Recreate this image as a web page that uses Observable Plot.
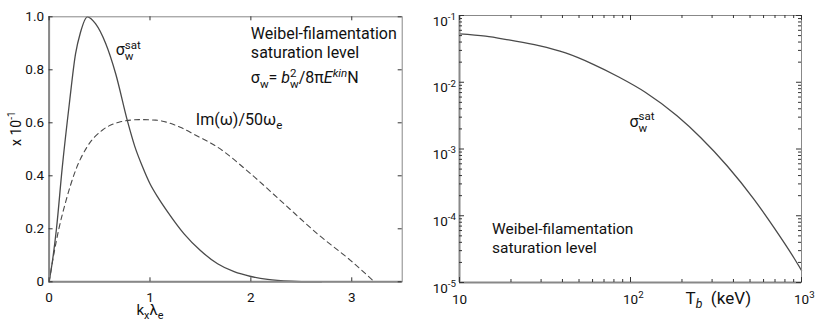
<!DOCTYPE html>
<html><head><meta charset="utf-8">
<script src="https://cdn.jsdelivr.net/npm/d3@7"></script>
<script src="https://cdn.jsdelivr.net/npm/@observablehq/plot@0.6"></script>
<style>
html,body{margin:0;padding:0;background:#fff;}
#wrap{position:relative;width:830px;height:329px;}
#left{position:absolute;left:0;top:0;}
#right{position:absolute;left:415px;top:0;}
</style></head>
<body><div id="wrap"><div id="left"></div><div id="right"></div></div>
<script>
// ---- Left panel data ----
const solidK = [0, 0.03, 0.073, 0.13, 0.2, 0.262, 0.31, 0.38, 0.46, 0.56, 0.66, 0.775, 0.85, 0.925, 1.0, 1.085, 1.173, 1.338, 1.5, 1.67, 1.834, 2.0, 2.166, 2.4, 2.6, 2.7];
const solidS = [0, 0.07, 0.2, 0.43, 0.67, 0.86, 0.94, 1.0, 0.974, 0.9, 0.785, 0.609, 0.51, 0.435, 0.37, 0.315, 0.265, 0.181, 0.118, 0.068, 0.038, 0.02, 0.009, 0.002, 0, 0];
const dashK = [0, 0.045, 0.097, 0.163, 0.262, 0.378, 0.527, 0.692, 0.89, 1.057, 1.3, 1.454, 1.67, 2.0, 2.33, 2.66, 2.99, 3.224];
const dashG = [0, 0.1, 0.2, 0.3, 0.42, 0.51, 0.572, 0.602, 0.612, 0.61, 0.583, 0.553, 0.508, 0.407, 0.294, 0.181, 0.08, 0];
const leftXTicks = [0, 1, 2, 3];
const leftXTickLabels = ["0", "1", "2", "3"];
const leftYTicks = [0, 0.2, 0.4, 0.6, 0.8, 1.0];
const leftYTickLabels = ["0", "0.2", "0.4", "0.6", "0.8", "1.0"];

// ---- Right panel data ----
const tempT = [10, 14.2, 19.4, 29.1, 41.7, 59.7, 85.4, 122, 187, 257, 368, 525, 689, 902, 1000];
const sigmaSat = [0.053, 0.049, 0.043, 0.0355, 0.0275, 0.0189, 0.012, 0.0071, 0.00315, 0.00149, 0.000556, 0.000179, 0.000067, 0.0000235, 0.0000152];
const rightXTicks = [10, 100, 1000];
const rightXTickLabels = ["10", "10^{2}", "10^{3}"];
const rightYTicks = [1e-1, 1e-2, 1e-3, 1e-4, 1e-5];
const rightYTickLabels = ["10^{-1}", "10^{-2}", "10^{-3}", "10^{-4}", "10^{-5}"];

const FONT = "Roboto, 'Open Sans', sans-serif";
const AX = "#888";
const TK = "#333";
const LINE = "#4a4a4a";

function richify(svg) {
  const NS = "http://www.w3.org/2000/svg";
  svg.querySelectorAll("text").forEach(el => {
    if (el.childNodes.length !== 1 || el.firstChild.nodeType !== 3) return;
    const s = el.textContent;
    if (!/[\^_~]\{/.test(s)) return;
    const fs = parseFloat(getComputedStyle(el).fontSize) || 14;
    const small = fs * 0.72;
    const supShift = -fs * 0.42, subShift = fs * 0.27;
    el.textContent = "";
    const re = /([\^_~])\{([^}]*)\}/g;
    let last = 0, m, offset = 0, prev = null, prevType = null, extra = 0;
    const add = (txt, type) => {
      const t = document.createElementNS(NS, "tspan");
      let italic = type === "~";
      if (txt.startsWith("~")) { italic = true; txt = txt.slice(1); }
      let target = 0;
      if (type === "^") target = supShift;
      else if (type === "_") target = subShift;
      t.setAttribute("dy", (target - offset).toFixed(2));
      offset = target;
      if (type === "^" || type === "_") t.setAttribute("font-size", small.toFixed(2));
      if (italic) t.setAttribute("font-style", "italic");
      let dx = extra; extra = 0;
      let stacked = false;
      if (type === "^" && prevType === "_" && prev) {
        dx = -prev.getComputedTextLength();
        stacked = true;
      }
      if (dx) t.setAttribute("dx", dx.toFixed(2));
      t.textContent = txt;
      el.appendChild(t);
      if (stacked) {
        const d = prev.getComputedTextLength() - t.getComputedTextLength();
        if (d > 0) extra = d;
      }
      prev = t; prevType = type;
    };
    while ((m = re.exec(s))) {
      if (m.index > last) add(s.slice(last, m.index), "");
      add(m[2], m[1]);
      last = re.lastIndex;
    }
    if (last < s.length) add(s.slice(last), "");
  });
}

// ---------- LEFT ----------
const LW = 415, LH = 329;
const lML = 48.6, lMR = 13.3, lMT = 16.3, lMB = 47.7;
const lIW = LW - lML - lMR, lIH = LH - lMT - lMB;
const solidData = solidK.map((k, i) => ({k, v: solidS[i]}));
const dashData = dashK.map((k, i) => ({k, v: dashG[i]}));

const leftAnn = [
  {x: 0.66, y: 0.854, t: "σ_{w}^{sat}"},
  {x: 1.454, y: 0.592, t: "Im(ω)/50ω_{e}"},
  {x: 2.0, y: 0.918, t: "Weibel-filamentation"},
  {x: 2.0, y: 0.844, t: "saturation level"},
  {x: 2.0, y: 0.749, t: "σ_{w}= ~{b}_{w}^{2}/8π~{E}^{~kin}N"}
];

const left = Plot.plot({
  width: LW, height: LH,
  marginLeft: lML, marginRight: lMR, marginTop: lMT, marginBottom: lMB,
  x: {domain: [0, 3.5], axis: null},
  y: {domain: [0, 1], axis: null},
  style: {fontFamily: FONT, background: "white", color: "#111", overflow: "visible"},
  marks: [
    Plot.line(dashData, {x: "k", y: "v", stroke: LINE, strokeWidth: 1.1, strokeDasharray: "5,4", curve: "monotone-x"}),
    Plot.line(solidData, {x: "k", y: "v", stroke: LINE, strokeWidth: 1.3, curve: "monotone-x"}),
    Plot.frame({stroke: AX, strokeWidth: 1}),
    Plot.ruleX([0], {stroke: AX, strokeWidth: 2}),
    Plot.ruleY([0], {stroke: AX, strokeWidth: 2}),
    Plot.tickY(leftYTicks, {y: d => d, insetRight: lIW - 4, stroke: TK}),
    Plot.tickY(leftYTicks, {y: d => d, insetLeft: lIW - 4, stroke: TK}),
    Plot.tickX(leftXTicks, {x: d => d, insetTop: lIH - 4, stroke: TK}),
    Plot.tickX(leftXTicks, {x: d => d, insetBottom: lIH - 4, stroke: TK}),
    Plot.text(leftYTicks, {y: d => d, text: (d, i) => leftYTickLabels[i], frameAnchor: "left", dx: -5, textAnchor: "end", lineAnchor: "middle", fontSize: 13.5, fill: "#111"}),
    Plot.text(leftXTicks, {x: d => d, text: (d, i) => leftXTickLabels[i], frameAnchor: "bottom", dy: 20, textAnchor: "middle", lineAnchor: "bottom", fontSize: 13.5, fill: "#111"}),
    Plot.text(["k_{x}λ_{e}"], {x: 1.0, text: d => d, frameAnchor: "bottom", dy: 33, textAnchor: "middle", lineAnchor: "bottom", fontSize: 15, fill: "#111"}),
    Plot.text(["x 10^{-1}"], {y: 0.578, text: d => d, frameAnchor: "left", dx: -28, rotate: -90, textAnchor: "middle", lineAnchor: "bottom", fontSize: 14, fill: "#111"}),
    Plot.text(leftAnn, {x: "x", y: "y", text: "t", textAnchor: "start", lineAnchor: "bottom", fontSize: 16, fill: "#111"})
  ]
});
document.getElementById("left").appendChild(left);
richify(left);

// ---------- RIGHT ----------
const RW = 415, RH = 329;
const rML = 44, rMR = 29, rMT = 15, rMB = 47;
const rIW = RW - rML - rMR, rIH = RH - rMT - rMB;
const curve = tempT.map((t, i) => ({t, s: sigmaSat[i]}));
const xMinor = d3.scaleLog().domain([10, 1000]).ticks().filter(v => !rightXTicks.includes(v));
const yMinor = d3.scaleLog().domain([1e-5, 1e-1]).ticks().filter(v => !rightYTicks.some(t => Math.abs(t - v) / t < 1e-6));

const rightAnn = [
  {x: 98.6, y: 0.00212, t: "σ_{w}^{sat}", size: 16},
  {x: 15.5, y: 5.37e-5, t: "Weibel-filamentation", size: 15.5},
  {x: 15.5, y: 2.79e-5, t: "saturation level", size: 15.5}
];

const right = Plot.plot({
  width: RW, height: RH,
  marginLeft: rML, marginRight: rMR, marginTop: rMT, marginBottom: rMB,
  x: {type: "log", domain: [10, 1000], axis: null},
  y: {type: "log", domain: [1e-5, 1e-1], axis: null},
  style: {fontFamily: FONT, background: "white", color: "#111", overflow: "visible"},
  marks: [
    Plot.line(curve, {x: "t", y: "s", stroke: LINE, strokeWidth: 1.3, curve: "monotone-x"}),
    Plot.frame({stroke: AX, strokeWidth: 1}),
    Plot.ruleX([10], {stroke: AX, strokeWidth: 2}),
    Plot.ruleY([1e-5], {stroke: AX, strokeWidth: 2}),
    Plot.tickY(rightYTicks, {y: d => d, insetRight: rIW - 5, stroke: TK}),
    Plot.tickY(rightYTicks, {y: d => d, insetLeft: rIW - 5, stroke: TK}),
    Plot.tickY(yMinor, {y: d => d, insetRight: rIW - 3, stroke: TK}),
    Plot.tickY(yMinor, {y: d => d, insetLeft: rIW - 3, stroke: TK}),
    Plot.tickX(rightXTicks, {x: d => d, insetTop: rIH - 5, stroke: TK}),
    Plot.tickX(rightXTicks, {x: d => d, insetBottom: rIH - 5, stroke: TK}),
    Plot.tickX(xMinor, {x: d => d, insetTop: rIH - 3, stroke: TK}),
    Plot.tickX(xMinor, {x: d => d, insetBottom: rIH - 3, stroke: TK}),
    Plot.text(rightYTicks, {y: d => d, text: (d, i) => rightYTickLabels[i], frameAnchor: "left", dx: -3.5, dy: 10, textAnchor: "end", lineAnchor: "bottom", fontSize: 13.5, fill: "#111"}),
    Plot.text(rightXTicks, {x: d => d, text: (d, i) => rightXTickLabels[i], frameAnchor: "bottom", dx: -7.5, dy: 21, textAnchor: "start", lineAnchor: "bottom", fontSize: 13.5, fill: "#111"}),
    Plot.text(["T_{~b}  (keV)"], {x: 210, text: d => d, frameAnchor: "bottom", dy: 21, textAnchor: "start", lineAnchor: "bottom", fontSize: 17, fill: "#111"}),
    Plot.text(rightAnn, {x: "x", y: "y", text: "t", textAnchor: "start", lineAnchor: "bottom", fontSize: d => d.size, fill: "#111"})
  ]
});
document.getElementById("right").appendChild(right);
richify(right);
</script>
</body></html>
